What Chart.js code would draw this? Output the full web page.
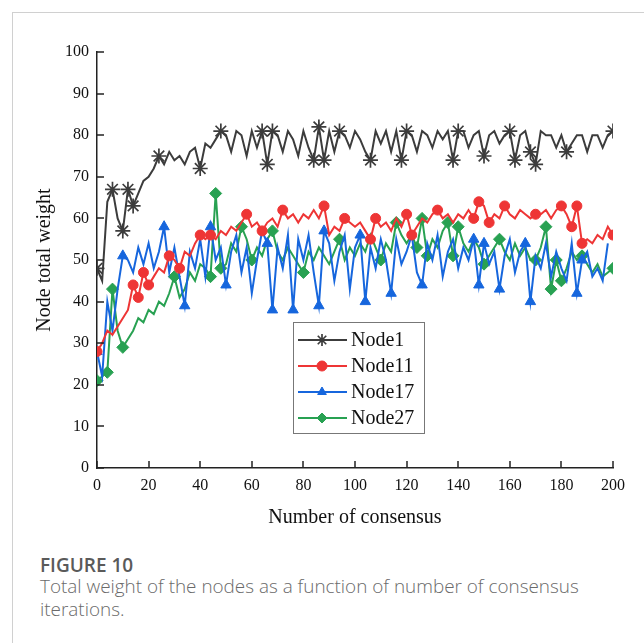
<!DOCTYPE html>
<html>
<head>
<meta charset="utf-8">
<script src="https://cdn.jsdelivr.net/npm/chart.js@4.4.1/dist/chart.umd.min.js"></script>
<style>
  html, body { margin: 0; padding: 0; background: #fff; }
  #frame {
    position: absolute; left: 12px; top: 12px; width: 700px; height: 700px;
    border-left: 1px solid #d0d0d0; border-top: 1px solid #d0d0d0;
  }
  #chart { position: absolute; left: 0; top: 0; }
  #fig { position: absolute; left: 40px; top: 552px; font-family: "Open Sans", sans-serif;
    font-size: 19px; font-weight: 600; color: #5a5a5a; }
  #cap { position: absolute; left: 40px; top: 575px; width: 580px; font-family: "Open Sans", sans-serif;
    font-size: 18.9px; line-height: 23px; color: #6a6a6a; font-weight: 300; }
</style>
</head>
<body>
<div id="frame"></div>
<canvas id="chart" width="644" height="540"></canvas>
<div id="fig">FIGURE 10</div>
<div id="cap">Total weight of the nodes as a function of number of consensus iterations.</div>
<script>
// x values: consensus iterations (every 2nd step)
const iterations = [0,2,4,6,8,10,12,14,16,18,20,22,24,26,28,30,32,34,36,38,40,42,44,46,48,50,
  52,54,56,58,60,62,64,66,68,70,72,74,76,78,80,82,84,86,88,90,92,94,96,98,100,
  102,104,106,108,110,112,114,116,118,120,122,124,126,128,130,132,134,136,138,140,
  142,144,146,148,150,152,154,156,158,160,162,164,166,168,170,172,174,176,178,180,
  182,184,186,188,190,192,194,196,198,200];

const node1 = [48,45,64,67,60,57,67,63,66,69,70,72,75,73,76,74,75,73,76,77,72,78,77,79,81,80,
  76,81,80,75,81,77,81,73,81,80,76,81,79,75,81,77,74,82,74,81,76,81,80,77,81,
  79,76,74,81,78,81,76,81,74,81,80,76,81,80,77,81,79,81,74,81,
  81,77,80,81,75,80,81,78,80,81,74,80,81,76,73,81,80,80,77,80,
  76,78,80,80,76,80,80,77,80,81];

const node11 = [28,30,33,32,34,36,38,44,41,47,44,46,48,47,51,50,48,52,51,54,56,55,56,55,57,56,
  58,57,59,61,58,59,57,59,60,58,62,60,61,59,61,60,62,60,63,56,58,57,60,59,58,
  59,57,55,60,58,59,57,60,58,61,56,58,60,59,61,62,60,61,59,61,
  60,62,60,64,63,59,61,60,63,61,60,62,61,60,61,61,62,60,62,63,
  61,58,63,54,55,54,56,55,58,56];

const node17 = [28,22,40,33,43,51,50,47,53,49,54,48,52,58,47,53,46,39,52,48,55,46,58,50,53,44,
  52,56,47,53,42,50,57,54,38,53,48,56,38,55,50,56,47,39,57,54,45,52,56,43,53,
  56,40,53,48,55,50,42,55,49,52,56,47,44,54,50,56,46,52,55,48,
  53,50,55,44,54,49,52,43,51,55,47,52,54,40,51,48,54,46,52,
  48,45,54,42,50,52,46,48,45,54];

const node27 = [21,22,23,43,33,29,31,33,36,35,38,37,40,39,42,46,41,43,47,45,49,48,46,66,48,49,
  54,52,58,55,50,53,51,55,57,52,50,53,51,49,47,52,50,53,51,49,52,55,50,53,51,
  54,52,56,53,50,54,52,59,56,54,56,53,60,51,55,53,57,59,51,58,
  54,52,55,53,49,51,53,55,52,50,54,51,53,50,50,53,58,43,50,45,
  48,52,50,51,49,47,49,46,47,48];

// iterations where a marker is drawn
const node1Marks = [0,6,10,12,14,24,40,48,64,66,68,84,86,88,94,106,118,120,138,140,150,160,162,168,170,182,200];
const node11Marks = [0,14,16,18,20,28,32,40,44,58,64,72,88,96,106,108,120,122,132,146,148,152,158,170,180,184,186,188,200];
const node17Marks = [0,10,26,34,44,50,66,68,76,86,88,102,104,114,126,146,148,150,156,166,168,186,188,200];
const node27Marks = [0,4,6,10,30,44,46,48,56,60,68,80,94,110,116,124,126,128,136,138,140,150,156,170,174,176,178,180,188,200];

const xTicks = [0,20,40,60,80,100,120,140,160,180,200];
const yTicks = [0,10,20,30,40,50,60,70,80,90,100];

const serif = '"Liberation Serif", "Times New Roman", serif';
Chart.defaults.font.family = serif;

function series(label, data, marks, color, style, r) {
  return {
    label: label, data: data,
    borderColor: color, backgroundColor: color,
    borderWidth: 2, tension: 0,
    pointStyle: style,
    pointRadius: c => marks.includes(iterations[c.dataIndex]) ? r : 0,
    pointHoverRadius: 0,
    pointBorderWidth: style === 'star' ? 1.7 : 1,
    pointBorderColor: color, pointBackgroundColor: color
  };
}

const datasets = [
  series('Node1', node1, node1Marks, '#3c3c3c', 'star', 7.5),
  series('Node11', node11, node11Marks, '#ee3535', 'circle', 5),
  series('Node17', node17, node17Marks, '#1666dd', 'triangle', 6),
  series('Node27', node27, node27Marks, '#28a152', 'rectRot', 6)
];

// inward tick marks + boxed legend
const extras = {
  id: 'extras',
  afterDraw(chart) {
    const ctx = chart.ctx;
    const xs = chart.scales.x, ys = chart.scales.y;
    ctx.save();
    ctx.strokeStyle = '#222';
    ctx.lineWidth = 1.5;
    xTicks.forEach(v => {
      const px = Math.round(xs.getPixelForValue(v));
      ctx.beginPath(); ctx.moveTo(px, ys.bottom); ctx.lineTo(px, ys.bottom - 7); ctx.stroke();
    });
    yTicks.forEach(v => {
      const py = Math.round(ys.getPixelForValue(v));
      ctx.beginPath(); ctx.moveTo(xs.left, py); ctx.lineTo(xs.left + 7, py); ctx.stroke();
    });

    // legend
    const bx = 293, by = 322, bw = 131, bh = 111;
    ctx.fillStyle = '#fff';
    ctx.fillRect(bx, by, bw, bh);
    ctx.strokeStyle = '#777';
    ctx.lineWidth = 1;
    ctx.strokeRect(bx + 0.5, by + 0.5, bw, bh);
    ctx.font = '20px ' + serif;
    ctx.textBaseline = 'middle';
    chart.data.datasets.forEach((d, i) => {
      const y = by + 18 + i * 26;
      ctx.strokeStyle = d.borderColor;
      ctx.lineWidth = 2;
      ctx.beginPath(); ctx.moveTo(bx + 5, y); ctx.lineTo(bx + 54, y); ctx.stroke();
      ctx.fillStyle = d.borderColor;
      ctx.lineWidth = d.pointBorderWidth;
      Chart.helpers.drawPoint(ctx, { pointStyle: d.pointStyle, radius: d.pointStyle === 'star' ? 6 : 5, borderWidth: d.pointBorderWidth }, bx + 29, y);
      ctx.fillStyle = '#111';
      ctx.fillText(d.label, bx + 58, y + 1);
    });
    ctx.restore();
  }
};

new Chart(document.getElementById('chart'), {
  type: 'line',
  data: { labels: iterations, datasets: datasets },
  plugins: [extras],
  options: {
    responsive: false,
    devicePixelRatio: 1,
    animation: false,
    layout: { padding: { top: 52, right: 31, left: 0, bottom: 0 } },
    plugins: { legend: { display: false }, tooltip: { enabled: false } },
    scales: {
      x: {
        type: 'linear', min: 0, max: 200,
        afterFit: s => { s.height = 72; },
        afterBuildTicks: s => { s.ticks = xTicks.map(v => ({ value: v })); },
        grid: { display: false, drawTicks: false },
        border: { display: true, color: '#222', width: 1.5 },
        ticks: { color: '#111', font: { family: serif, size: 16 }, padding: 8, maxRotation: 0 },
        title: { display: true, text: 'Number of consensus', color: '#111',
          font: { family: serif, size: 20 }, padding: { top: 0, bottom: 10 } }
      },
      y: {
        min: 0, max: 100,
        afterFit: s => { s.width = 97; },
        afterBuildTicks: s => { s.ticks = yTicks.map(v => ({ value: v })); },
        grid: { display: false, drawTicks: false },
        border: { display: true, color: '#222', width: 1.5 },
        ticks: { color: '#111', font: { family: serif, size: 16 }, padding: 8 },
        title: { display: true, text: 'Node total weight', color: '#111',
          font: { family: serif, size: 20 }, padding: { top: 33, bottom: 0 } }
      }
    }
  }
});
</script>
</body>
</html>
